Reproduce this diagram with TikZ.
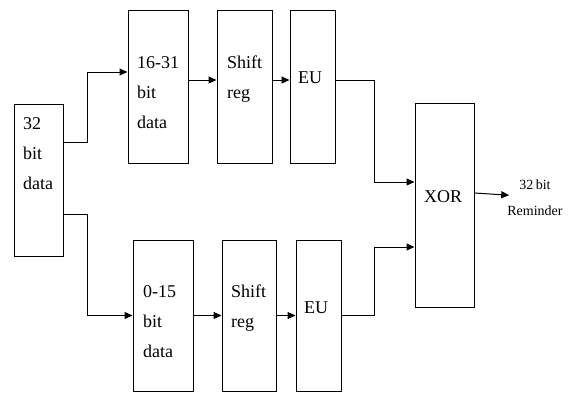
\documentclass[tikz,border=0pt]{standalone}
\usepackage{fontspec}
\setmainfont{Liberation Serif}
\usetikzlibrary{arrows.meta}
\begin{document}
\begin{tikzpicture}[x=1pt,y=-1pt,
  box/.style={draw, line width=1pt, inner sep=0pt},
  txt/.style={inner sep=0pt, anchor=base west, align=left, font=\rmfamily\fontsize{18}{30}\selectfont},
  arr/.style={line width=1pt, -{Triangle[length=8pt,width=7pt]}}]
\useasboundingbox (0,0) rectangle (570,392);
% boxes
\node[box, minimum width=49pt, minimum height=152pt] (d32) at (38.5,180) {};
\node[box, minimum width=60pt, minimum height=153pt] (hi)  at (158,86.5) {};
\node[box, minimum width=55pt, minimum height=153pt] (sh1) at (244.5,86.5) {};
\node[box, minimum width=45pt, minimum height=153pt] (eu1) at (312.5,86.5) {};
\node[box, minimum width=59pt, minimum height=204pt] (xor) at (444.5,205) {};
\node[box, minimum width=60pt, minimum height=151pt] (lo)  at (163,315.5) {};
\node[box, minimum width=54pt, minimum height=151pt] (sh2) at (249,315.5) {};
\node[box, minimum width=45pt, minimum height=151pt] (eu2) at (318.5,315.5) {};
% texts (anchor = baseline of last line)
\node[txt] (t1) at (23,189) {32\\bit\\data};
\node[txt] (t2) at (137,128) {16-31\\bit\\data};
\node[txt] (t3) at (227,98) {Shift\\reg};
\node[txt] (t4) at (298,83) {EU};
\node[txt] (t5) at (143,357) {0-15\\bit\\data};
\node[txt] (t6) at (231,327) {Shift\\reg};
\node[txt] (t7) at (304,313) {EU};
\node[txt] (t8) at (424,202) {XOR};
\node[inner sep=0pt, anchor=base, align=center, font=\rmfamily\fontsize{14}{26}\selectfont] (out) at (535,215) {32\,bit\\Reminder};
% connectors
\draw[arr] ([yshift=38pt]d32.east) -- ++(24,0) |- ([yshift=14.5pt]hi.west);
\draw[arr] ([yshift=-34pt]d32.east) -- ++(24,0) |- (lo.west);
\draw[arr] ([yshift=6.5pt]hi.east) -- ([yshift=6.5pt]sh1.west);
\draw[arr] ([yshift=6.5pt]sh1.east) -- ([yshift=6.5pt]eu1.west);
\draw[arr] (lo.east) -- (sh2.west);
\draw[arr] (sh2.east) -- (eu2.west);
\draw[arr] ([yshift=6.5pt]eu1.east) -- ++(39,0) |- ([yshift=23pt]xor.west);
\draw[arr] (eu2.east) -- ++(33,0) |- ([yshift=-42pt]xor.west);
\draw[arr] ([yshift=12pt]xor.east) -- ([xshift=2pt,yshift=2pt]out.west);
\end{tikzpicture}
\end{document}
